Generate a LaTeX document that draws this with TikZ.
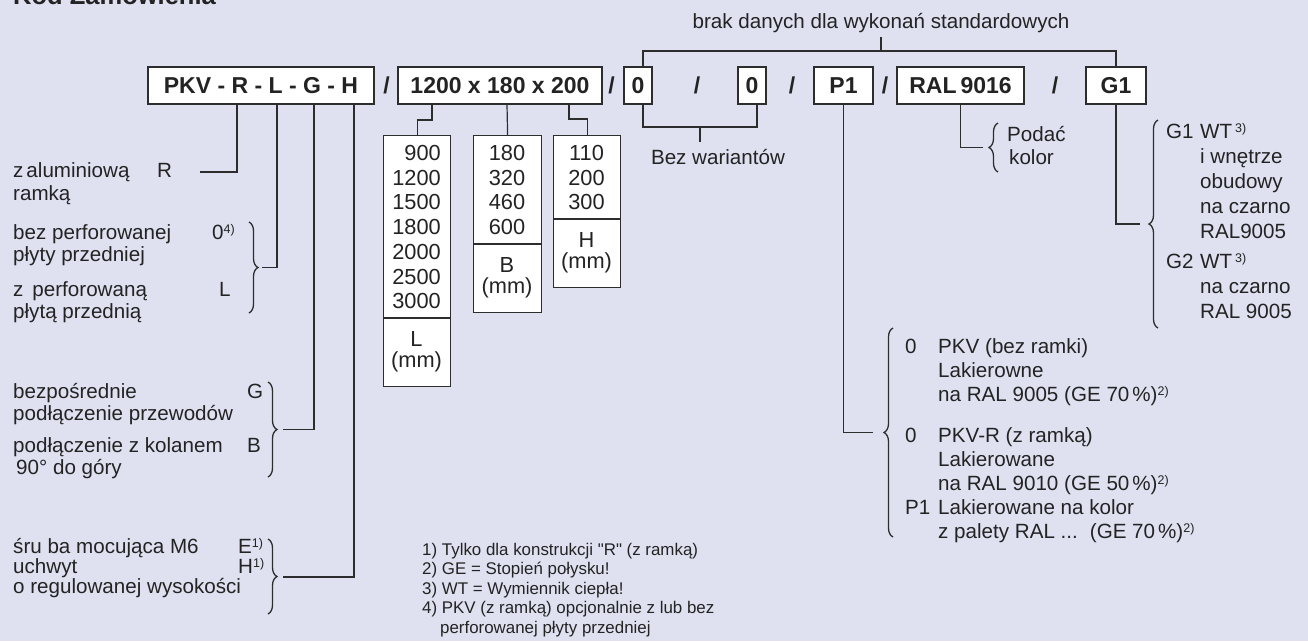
\documentclass[tikz,border=0pt]{standalone}
\usepackage{fontspec}
\setmainfont{Liberation Sans}[Ligatures=TeXOff]
\usetikzlibrary{decorations.pathreplacing}

\definecolor{bgc}{RGB}{223,225,241}
\definecolor{ink}{RGB}{35,35,35}
\definecolor{wire}{RGB}{45,45,45}

\newcommand\fsmain{\fontsize{20.6}{22}\selectfont}
\newcommand\fsnum{\fontsize{21.8}{24}\selectfont}
\newcommand\fsbold{\fontsize{23}{25}\selectfont\bfseries}
\newcommand\fsnote{\fontsize{16.9}{19}\selectfont}
\newcommand\supr[1]{\raisebox{6pt}{\fontsize{12.5}{12.5}\selectfont #1}}

\tikzset{
  txt/.style={inner sep=0pt, anchor=base west, text=ink, font=\fsmain},
  num/.style={inner sep=0pt, text=ink, font=\fsnum},
  note/.style={inner sep=0pt, anchor=base west, text=ink, font=\fsnote},
  codebox/.style={draw=wire, line width=1.3pt, fill=white, inner sep=0pt,
    minimum height=37pt, text height=16.5pt, text depth=0pt, font=\fsbold, text=ink},
  slash/.style={inner sep=0pt, text height=16.5pt, text depth=0pt, font=\fsbold, text=ink},
  cell/.style={draw=wire, line width=1.2pt, fill=white, inner sep=0pt, anchor=north west},
  wirel/.style={draw=wire, line width=1.2pt},
  brc/.style={draw=wire, line width=1.3pt, decorate,
    decoration={brace, amplitude=9pt, aspect=0.5}},
}

\begin{document}
\begin{tikzpicture}[x=1pt,y=-1pt]
\fill[bgc] (0,0) rectangle (1308,641);
\useasboundingbox (0,0) rectangle (1308,641);

% heading (runs off the top edge)
\node[txt, font=\fontsize{25.5}{27}\selectfont\bfseries] (title) at (13,4) {Kod Zamówienia};

% ---------- order code row ----------
\node[codebox, minimum width=226pt] (b1) at (261,85.5) {PKV - R - L - G - H};
\node[codebox, minimum width=204pt] (b2) at (500,85.5) {1200 x 180 x 200};
\node[codebox, minimum width=28pt]  (b3) at (638,85.5) {0};
\node[codebox, minimum width=28pt]  (b4) at (752,85.5) {0};
\node[codebox, minimum width=59pt]  (b5) at (843.5,85.5) {P1};
\node[codebox, minimum width=127pt] (b6) at (960.5,85.5) {RAL\kern4pt9016};
\node[codebox, minimum width=60pt]  (b7) at (1116,85.5) {G1};

\node[slash] (s1) at (386.5,85.5) {/};
\node[slash] (s2) at (611.5,85.5) {/};
\node[slash] (s3) at (697,85.5) {/};
\node[slash] (s4) at (792,85.5) {/};
\node[slash] (s5) at (885,85.5) {/};
\node[slash] (s6) at (1055,85.5) {/};

% ---------- standard-version bracket ----------
\node[txt, anchor=base] (std) at (881,28) {brak danych dla wykonań standardowych};
\coordinate (topbar) at (881,51);
\draw[wirel] (std.south) ++(0,5) -- (topbar);
\draw[wirel] (b3.north -| 643,0) -- (643,51) -- (b7.north |- topbar) -- (b7.north);

% ---------- "Bez wariantów" bracket ----------
\node[txt, anchor=base] (bez) at (718,164) {Bez wariantów};
\coordinate (bwbar) at (700,127);
\draw[wirel] (b3.south -| 643,0) -- (643,127) -- (757,127) -- (b4.south -| 757,0);
\draw[wirel] (bwbar) -- (bwbar |- 0,142);

% ---------- dimension tables ----------
\node[cell, minimum width=67pt, minimum height=251pt] (Lt) at (383,135) {};
\draw[wirel] (Lt.west |- 0,318) -- (Lt.east |- 0,318);
\node[cell, minimum width=68pt, minimum height=177pt] (Bt) at (473,135) {};
\draw[wirel] (Bt.west |- 0,244) -- (Bt.east |- 0,244);
\node[cell, minimum width=67pt, minimum height=152pt] (Ht) at (553,135) {};
\draw[wirel] (Ht.west |- 0,219) -- (Ht.east |- 0,219);

\foreach \v [count=\i from 0] in {900,1200,1500,1800,2000,2500,3000}
  \node[num, anchor=base east] at (441,160.5+24.7*\i) {\v};
\foreach \v [count=\i from 0] in {180,320,460,600}
  \node[num, anchor=base] at (507,160.5+24.7*\i) {\v};
\foreach \v [count=\i from 0] in {110,200,300}
  \node[num, anchor=base] at (586.5,160.5+24.7*\i) {\v};

\node[num, align=center, font=\fontsize{21.8}{21}\selectfont] (Lu) at (416.5,352) {L\\(mm)};
\node[num, align=center, font=\fontsize{21.8}{21}\selectfont] (Bu) at (507,278) {B\\(mm)};
\node[num, align=center, font=\fontsize{21.8}{21}\selectfont] (Hu) at (586.5,253) {H\\(mm)};

\draw[wirel] (b2.south -| 432,0) -- (432,120) -- (Lt.north |- 0,120) -- (Lt.north);
\draw[wirel] (b2.south -| 507,0) -- (Bt.north);
\draw[wirel] (b2.south -| 569,0) -- (569,119) -- (Ht.north |- 0,119) -- (Ht.north);

% ---------- left column: frame / front plate / connection / mounting ----------
\node[txt] (t1) at (13,177) {z\kern3pt aluminiową};
\node[txt] (t2) at (13,200) {ramką};
\node[txt] (cR) at (157,177) {R};
\coordinate (eR) at (200,172);
\draw[wirel] (b1.south -| 237,0) |- (eR);

\node[txt] (t3) at (13,239) {bez perforowanej};
\node[txt] (t4) at (13,261) {płyty przedniej};
\node[txt] (t5) at (13,296) {z\kern9pt perforowaną};
\node[txt] (t6) at (13,318) {płytą przednią};
\node[txt] (c0) at (212,239) {0\supr{4)}};
\node[txt] (cL) at (219,296) {L};
\draw[brc] (249,222) -- (249,313);
\coordinate (e1) at (262,267.5);
\draw[wirel] (b1.south -| 277,0) |- (e1);

\node[txt] (t7) at (13,398) {bezpośrednie};
\node[txt] (t8) at (13,420) {podłączenie przewodów};
\node[txt] (t9) at (13,452) {podłączenie z kolanem};
\node[txt] (t10) at (16,474) {90° do góry};
\node[txt] (cG) at (247,398) {G};
\node[txt] (cB) at (247,452) {B};
\draw[brc] (268,382) -- (268,477);
\coordinate (e2) at (283,429.5);
\draw[wirel] (b1.south -| 314,0) |- (e2);

\node[txt] (t11) at (13,553) {śru ba mocująca M6};
\node[txt] (t12) at (13,573) {uchwyt};
\node[txt] (t13) at (13,593) {o regulowanej wysokości};
\node[txt] (cE) at (238,553) {E\supr{1)}};
\node[txt] (cH) at (238,573) {H\supr{1)}};
\draw[brc] (268,539) -- (268,614);
\coordinate (e3) at (283,577);
\draw[wirel] (b1.south -| 354,0) |- (e3);

% ---------- colour ----------
\node[txt] (p1) at (1007,141) {Podać};
\node[txt] (p2) at (1009,164) {kolor};
\draw[brc] (998,172) -- (998,123);
\coordinate (e4) at (983,147.5);
\draw[wirel] (b6.south) |- (e4);

% ---------- heat exchanger variants ----------
\node[txt] (g1) at (1166,138) {G1};
\node[txt] (g1a) at (1200,138) {WT\kern3pt\supr{3)}};
\node[txt] (g1b) at (1200,163) {i wnętrze};
\node[txt] (g1c) at (1200,188) {obudowy};
\node[txt] (g1d) at (1200,213) {na czarno};
\node[txt] (g1e) at (1200,238) {RAL9005};
\node[txt] (g2) at (1166,268) {G2};
\node[txt] (g2a) at (1200,268) {WT\kern3pt\supr{3)}};
\node[txt] (g2b) at (1200,293) {na czarno};
\node[txt] (g2c) at (1200,318) {RAL 9005};
\draw[brc] (1158,328) -- (1158,120);
\coordinate (e5) at (1140,224);
\draw[wirel] (b7.south) |- (e5);

% ---------- finish ----------
\node[txt] (f0) at (905,353) {0};
\node[txt] (f0a) at (938,353) {PKV (bez ramki)};
\node[txt] (f0b) at (938,377) {Lakierowne};
\node[txt] (f0c) at (938,401) {na RAL 9005 (GE 70\kern3pt\%)\supr{2)}};
\node[txt] (f1) at (905,442) {0};
\node[txt] (f1a) at (938,442) {PKV-R (z ramką)};
\node[txt] (f1b) at (938,466) {Lakierowane};
\node[txt] (f1c) at (938,490) {na RAL 9010 (GE 50\kern3pt\%)\supr{2)}};
\node[txt] (f2) at (905,514) {P1};
\node[txt] (f2a) at (938,514) {Lakierowane na kolor};
\node[txt] (f2b) at (938,538) {z palety RAL ...\kern12pt(GE 70\kern3pt\%)\supr{2)}};
\draw[brc] (893,537) -- (893,328);
\coordinate (e6) at (873,432.5);
\draw[wirel] (b5.south) |- (e6);

% ---------- footnotes ----------
\node[note] (n1) at (422,555) {1) Tylko dla konstrukcji "R" (z ramką)};
\node[note] (n2) at (422,574.5) {2) GE = Stopień połysku!};
\node[note] (n3) at (422,594) {3) WT = Wymiennik ciepła!};
\node[note] (n4) at (422,613.5) {4) PKV (z ramką) opcjonalnie z lub bez};
\node[note] (n5) at (440,633) {perforowanej płyty przedniej};
\end{tikzpicture}
\end{document}
